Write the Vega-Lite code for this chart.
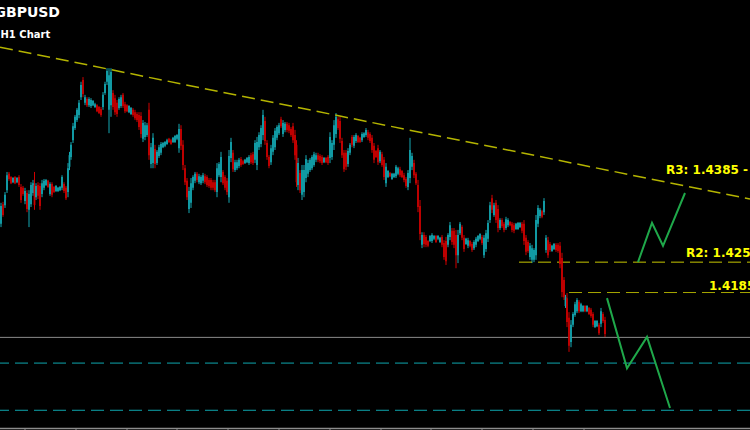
{
"$schema": "https://vega.github.io/schema/vega-lite/v6.json",
"width": 750, "height": 430,
"autosize": {"type": "none"},
"padding": 0,
"background": "#000000",
"config": {"view": {"stroke": null}},
"datasets": {
"candles": [
{"t":1,"o":1.4332,"h":1.4377,"l":1.4325,"c":1.4370},
{"t":3,"o":1.4374,"h":1.4379,"l":1.4347,"c":1.4351},
{"t":5,"o":1.4372,"h":1.4400,"l":1.4366,"c":1.4394},
{"t":7,"o":1.4404,"h":1.4443,"l":1.4398,"c":1.4436},
{"t":9,"o":1.4439,"h":1.4443,"l":1.4424,"c":1.4428},
{"t":11,"o":1.4432,"h":1.4434,"l":1.4417,"c":1.4419},
{"t":13,"o":1.4421,"h":1.4432,"l":1.4419,"c":1.4430},
{"t":15,"o":1.4432,"h":1.4434,"l":1.4417,"c":1.4419},
{"t":17,"o":1.4421,"h":1.4432,"l":1.4419,"c":1.4430},
{"t":19,"o":1.4432,"h":1.4436,"l":1.4411,"c":1.4415},
{"t":21,"o":1.4411,"h":1.4417,"l":1.4377,"c":1.4383},
{"t":23,"o":1.4409,"h":1.4413,"l":1.4392,"c":1.4396},
{"t":25,"o":1.4381,"h":1.4409,"l":1.4374,"c":1.4402},
{"t":27,"o":1.4398,"h":1.4404,"l":1.4357,"c":1.4364},
{"t":29,"o":1.4362,"h":1.4404,"l":1.4325,"c":1.4396},
{"t":31,"o":1.4374,"h":1.4421,"l":1.4368,"c":1.4415},
{"t":33,"o":1.4398,"h":1.4426,"l":1.4392,"c":1.4419},
{"t":34.5,"o":1.4415,"h":1.4443,"l":1.4362,"c":1.4372},
{"t":36,"o":1.4389,"h":1.4419,"l":1.4383,"c":1.4413},
{"t":38,"o":1.4415,"h":1.4421,"l":1.4385,"c":1.4392},
{"t":40,"o":1.4413,"h":1.4419,"l":1.4362,"c":1.4370},
{"t":42,"o":1.4396,"h":1.4426,"l":1.4389,"c":1.4419},
{"t":44,"o":1.4409,"h":1.4428,"l":1.4404,"c":1.4424},
{"t":46,"o":1.4415,"h":1.4428,"l":1.4413,"c":1.4426},
{"t":48,"o":1.4424,"h":1.4426,"l":1.4409,"c":1.4411},
{"t":50,"o":1.4396,"h":1.4421,"l":1.4392,"c":1.4417},
{"t":52,"o":1.4417,"h":1.4421,"l":1.4389,"c":1.4394},
{"t":54,"o":1.4411,"h":1.4413,"l":1.4398,"c":1.4400},
{"t":56,"o":1.4402,"h":1.4415,"l":1.4400,"c":1.4413},
{"t":58,"o":1.4402,"h":1.4411,"l":1.4400,"c":1.4409},
{"t":60,"o":1.4404,"h":1.4413,"l":1.4402,"c":1.4411},
{"t":62,"o":1.4409,"h":1.4436,"l":1.4404,"c":1.4432},
{"t":64,"o":1.4417,"h":1.4421,"l":1.4398,"c":1.4402},
{"t":66,"o":1.4409,"h":1.4413,"l":1.4383,"c":1.4387},
{"t":68,"o":1.4400,"h":1.4462,"l":1.4389,"c":1.4451},
{"t":69.5,"o":1.4454,"h":1.4486,"l":1.4447,"c":1.4479},
{"t":71,"o":1.4475,"h":1.4507,"l":1.4469,"c":1.4501},
{"t":73,"o":1.4511,"h":1.4548,"l":1.4505,"c":1.4541},
{"t":75,"o":1.4537,"h":1.4565,"l":1.4533,"c":1.4561},
{"t":77,"o":1.4554,"h":1.4580,"l":1.4550,"c":1.4576},
{"t":79,"o":1.4565,"h":1.4597,"l":1.4558,"c":1.4591},
{"t":81,"o":1.4603,"h":1.4636,"l":1.4597,"c":1.4629},
{"t":83,"o":1.4640,"h":1.4646,"l":1.4603,"c":1.4610},
{"t":85,"o":1.4591,"h":1.4608,"l":1.4586,"c":1.4603},
{"t":87,"o":1.4599,"h":1.4603,"l":1.4582,"c":1.4586},
{"t":89,"o":1.4586,"h":1.4603,"l":1.4582,"c":1.4599},
{"t":91,"o":1.4584,"h":1.4601,"l":1.4580,"c":1.4597},
{"t":93,"o":1.4586,"h":1.4597,"l":1.4584,"c":1.4595},
{"t":95,"o":1.4582,"h":1.4591,"l":1.4580,"c":1.4588},
{"t":97,"o":1.4586,"h":1.4588,"l":1.4571,"c":1.4573},
{"t":99,"o":1.4582,"h":1.4584,"l":1.4567,"c":1.4569},
{"t":101,"o":1.4578,"h":1.4582,"l":1.4561,"c":1.4565},
{"t":103,"o":1.4582,"h":1.4614,"l":1.4576,"c":1.4608},
{"t":105,"o":1.4612,"h":1.4636,"l":1.4608,"c":1.4631},
{"t":107,"o":1.4636,"h":1.4665,"l":1.4629,"c":1.4659},
{"t":109,"o":1.4576,"h":1.4665,"l":1.4526,"c":1.4650},
{"t":111,"o":1.4586,"h":1.4665,"l":1.4561,"c":1.4657},
{"t":113,"o":1.4612,"h":1.4618,"l":1.4576,"c":1.4582},
{"t":115,"o":1.4601,"h":1.4608,"l":1.4565,"c":1.4571},
{"t":117,"o":1.4591,"h":1.4597,"l":1.4561,"c":1.4567},
{"t":119,"o":1.4580,"h":1.4603,"l":1.4576,"c":1.4599},
{"t":121,"o":1.4584,"h":1.4608,"l":1.4580,"c":1.4603},
{"t":123,"o":1.4608,"h":1.4612,"l":1.4580,"c":1.4584},
{"t":125,"o":1.4588,"h":1.4593,"l":1.4569,"c":1.4573},
{"t":127,"o":1.4586,"h":1.4588,"l":1.4571,"c":1.4573},
{"t":129,"o":1.4571,"h":1.4586,"l":1.4569,"c":1.4584},
{"t":131,"o":1.4567,"h":1.4582,"l":1.4565,"c":1.4580},
{"t":133,"o":1.4576,"h":1.4580,"l":1.4561,"c":1.4565},
{"t":135,"o":1.4571,"h":1.4576,"l":1.4554,"c":1.4558},
{"t":137,"o":1.4567,"h":1.4571,"l":1.4550,"c":1.4554},
{"t":139,"o":1.4565,"h":1.4571,"l":1.4533,"c":1.4539},
{"t":141,"o":1.4563,"h":1.4571,"l":1.4516,"c":1.4524},
{"t":143,"o":1.4514,"h":1.4554,"l":1.4507,"c":1.4548},
{"t":145,"o":1.4518,"h":1.4550,"l":1.4511,"c":1.4543},
{"t":147,"o":1.4522,"h":1.4548,"l":1.4518,"c":1.4543},
{"t":149,"o":1.4576,"h":1.4591,"l":1.4469,"c":1.4479},
{"t":151,"o":1.4460,"h":1.4505,"l":1.4451,"c":1.4496},
{"t":153,"o":1.4462,"h":1.4526,"l":1.4451,"c":1.4516},
{"t":155,"o":1.4492,"h":1.4501,"l":1.4451,"c":1.4460},
{"t":157,"o":1.4462,"h":1.4490,"l":1.4458,"c":1.4486},
{"t":159,"o":1.4477,"h":1.4501,"l":1.4473,"c":1.4496},
{"t":161,"o":1.4484,"h":1.4507,"l":1.4479,"c":1.4503},
{"t":163,"o":1.4496,"h":1.4507,"l":1.4494,"c":1.4505},
{"t":165,"o":1.4499,"h":1.4509,"l":1.4496,"c":1.4507},
{"t":167,"o":1.4503,"h":1.4514,"l":1.4501,"c":1.4511},
{"t":169,"o":1.4514,"h":1.4516,"l":1.4505,"c":1.4507},
{"t":171,"o":1.4511,"h":1.4514,"l":1.4501,"c":1.4503},
{"t":173,"o":1.4507,"h":1.4518,"l":1.4505,"c":1.4516},
{"t":175,"o":1.4507,"h":1.4522,"l":1.4505,"c":1.4520},
{"t":177,"o":1.4514,"h":1.4524,"l":1.4511,"c":1.4522},
{"t":179,"o":1.4494,"h":1.4546,"l":1.4484,"c":1.4535},
{"t":181,"o":1.4535,"h":1.4543,"l":1.4490,"c":1.4499},
{"t":183,"o":1.4501,"h":1.4511,"l":1.4447,"c":1.4458},
{"t":185,"o":1.4451,"h":1.4458,"l":1.4415,"c":1.4421},
{"t":187,"o":1.4424,"h":1.4430,"l":1.4383,"c":1.4389},
{"t":189,"o":1.4364,"h":1.4411,"l":1.4355,"c":1.4402},
{"t":191,"o":1.4377,"h":1.4430,"l":1.4366,"c":1.4419},
{"t":193,"o":1.4409,"h":1.4436,"l":1.4404,"c":1.4432},
{"t":195,"o":1.4424,"h":1.4443,"l":1.4419,"c":1.4439},
{"t":197,"o":1.4439,"h":1.4443,"l":1.4421,"c":1.4426},
{"t":199,"o":1.4421,"h":1.4439,"l":1.4417,"c":1.4434},
{"t":201,"o":1.4419,"h":1.4436,"l":1.4415,"c":1.4432},
{"t":203,"o":1.4424,"h":1.4441,"l":1.4419,"c":1.4436},
{"t":205,"o":1.4434,"h":1.4439,"l":1.4417,"c":1.4421},
{"t":207,"o":1.4432,"h":1.4436,"l":1.4411,"c":1.4415},
{"t":209,"o":1.4426,"h":1.4430,"l":1.4409,"c":1.4413},
{"t":211,"o":1.4426,"h":1.4430,"l":1.4404,"c":1.4409},
{"t":213,"o":1.4421,"h":1.4426,"l":1.4404,"c":1.4409},
{"t":215,"o":1.4421,"h":1.4426,"l":1.4400,"c":1.4404},
{"t":217,"o":1.4400,"h":1.4462,"l":1.4389,"c":1.4451},
{"t":219,"o":1.4436,"h":1.4464,"l":1.4432,"c":1.4460},
{"t":221,"o":1.4432,"h":1.4486,"l":1.4421,"c":1.4475},
{"t":223,"o":1.4443,"h":1.4447,"l":1.4415,"c":1.4419},
{"t":225,"o":1.4432,"h":1.4436,"l":1.4404,"c":1.4409},
{"t":227,"o":1.4424,"h":1.4430,"l":1.4394,"c":1.4400},
{"t":229,"o":1.4389,"h":1.4490,"l":1.4377,"c":1.4477},
{"t":231,"o":1.4473,"h":1.4516,"l":1.4464,"c":1.4507},
{"t":233,"o":1.4484,"h":1.4490,"l":1.4443,"c":1.4449},
{"t":235,"o":1.4447,"h":1.4469,"l":1.4443,"c":1.4464},
{"t":237,"o":1.4451,"h":1.4469,"l":1.4447,"c":1.4464},
{"t":239,"o":1.4456,"h":1.4473,"l":1.4451,"c":1.4469},
{"t":241,"o":1.4471,"h":1.4475,"l":1.4454,"c":1.4458},
{"t":243,"o":1.4466,"h":1.4469,"l":1.4458,"c":1.4460},
{"t":245,"o":1.4462,"h":1.4471,"l":1.4460,"c":1.4469},
{"t":247,"o":1.4464,"h":1.4475,"l":1.4462,"c":1.4473},
{"t":249,"o":1.4462,"h":1.4479,"l":1.4458,"c":1.4475},
{"t":251,"o":1.4479,"h":1.4484,"l":1.4460,"c":1.4464},
{"t":253,"o":1.4481,"h":1.4486,"l":1.4458,"c":1.4462},
{"t":255,"o":1.4469,"h":1.4511,"l":1.4462,"c":1.4505},
{"t":257,"o":1.4458,"h":1.4518,"l":1.4447,"c":1.4507},
{"t":259,"o":1.4496,"h":1.4528,"l":1.4490,"c":1.4522},
{"t":261,"o":1.4503,"h":1.4543,"l":1.4496,"c":1.4537},
{"t":263,"o":1.4522,"h":1.4576,"l":1.4511,"c":1.4565},
{"t":265,"o":1.4552,"h":1.4561,"l":1.4501,"c":1.4509},
{"t":267,"o":1.4505,"h":1.4511,"l":1.4469,"c":1.4475},
{"t":269,"o":1.4475,"h":1.4479,"l":1.4451,"c":1.4456},
{"t":271,"o":1.4464,"h":1.4501,"l":1.4458,"c":1.4494},
{"t":273,"o":1.4486,"h":1.4522,"l":1.4479,"c":1.4516},
{"t":275,"o":1.4496,"h":1.4537,"l":1.4490,"c":1.4531},
{"t":277,"o":1.4516,"h":1.4543,"l":1.4511,"c":1.4539},
{"t":279,"o":1.4526,"h":1.4548,"l":1.4522,"c":1.4543},
{"t":281,"o":1.4556,"h":1.4561,"l":1.4537,"c":1.4541},
{"t":283,"o":1.4524,"h":1.4554,"l":1.4518,"c":1.4548},
{"t":285,"o":1.4533,"h":1.4550,"l":1.4528,"c":1.4546},
{"t":287,"o":1.4546,"h":1.4550,"l":1.4528,"c":1.4533},
{"t":289,"o":1.4543,"h":1.4548,"l":1.4526,"c":1.4531},
{"t":291,"o":1.4535,"h":1.4539,"l":1.4518,"c":1.4522},
{"t":293,"o":1.4541,"h":1.4548,"l":1.4505,"c":1.4511},
{"t":295,"o":1.4522,"h":1.4533,"l":1.4469,"c":1.4479},
{"t":296.5,"o":1.4501,"h":1.4511,"l":1.4411,"c":1.4421},
{"t":298,"o":1.4415,"h":1.4473,"l":1.4404,"c":1.4462},
{"t":300,"o":1.4441,"h":1.4447,"l":1.4398,"c":1.4404},
{"t":302,"o":1.4394,"h":1.4458,"l":1.4383,"c":1.4447},
{"t":304,"o":1.4400,"h":1.4458,"l":1.4389,"c":1.4447},
{"t":306,"o":1.4430,"h":1.4479,"l":1.4421,"c":1.4471},
{"t":308,"o":1.4439,"h":1.4469,"l":1.4432,"c":1.4462},
{"t":310,"o":1.4447,"h":1.4473,"l":1.4443,"c":1.4469},
{"t":312,"o":1.4451,"h":1.4479,"l":1.4447,"c":1.4475},
{"t":314,"o":1.4458,"h":1.4486,"l":1.4454,"c":1.4481},
{"t":316,"o":1.4469,"h":1.4484,"l":1.4464,"c":1.4479},
{"t":318,"o":1.4479,"h":1.4484,"l":1.4464,"c":1.4469},
{"t":320,"o":1.4477,"h":1.4481,"l":1.4462,"c":1.4466},
{"t":322,"o":1.4475,"h":1.4479,"l":1.4458,"c":1.4462},
{"t":324,"o":1.4464,"h":1.4475,"l":1.4462,"c":1.4473},
{"t":326,"o":1.4473,"h":1.4475,"l":1.4462,"c":1.4464},
{"t":328,"o":1.4475,"h":1.4479,"l":1.4458,"c":1.4462},
{"t":330,"o":1.4473,"h":1.4528,"l":1.4462,"c":1.4518},
{"t":332,"o":1.4475,"h":1.4511,"l":1.4469,"c":1.4505},
{"t":334,"o":1.4501,"h":1.4554,"l":1.4490,"c":1.4543},
{"t":336,"o":1.4524,"h":1.4569,"l":1.4516,"c":1.4561},
{"t":338,"o":1.4556,"h":1.4561,"l":1.4533,"c":1.4537},
{"t":340,"o":1.4552,"h":1.4561,"l":1.4505,"c":1.4514},
{"t":342,"o":1.4509,"h":1.4516,"l":1.4473,"c":1.4479},
{"t":344,"o":1.4484,"h":1.4490,"l":1.4443,"c":1.4449},
{"t":346,"o":1.4484,"h":1.4490,"l":1.4447,"c":1.4454},
{"t":348,"o":1.4460,"h":1.4494,"l":1.4454,"c":1.4488},
{"t":350,"o":1.4484,"h":1.4505,"l":1.4479,"c":1.4501},
{"t":352,"o":1.4518,"h":1.4522,"l":1.4496,"c":1.4501},
{"t":354,"o":1.4499,"h":1.4522,"l":1.4494,"c":1.4518},
{"t":356,"o":1.4509,"h":1.4526,"l":1.4505,"c":1.4522},
{"t":358,"o":1.4520,"h":1.4522,"l":1.4505,"c":1.4507},
{"t":360,"o":1.4516,"h":1.4518,"l":1.4505,"c":1.4507},
{"t":362,"o":1.4511,"h":1.4528,"l":1.4507,"c":1.4524},
{"t":364,"o":1.4518,"h":1.4528,"l":1.4516,"c":1.4526},
{"t":366,"o":1.4522,"h":1.4537,"l":1.4518,"c":1.4533},
{"t":368,"o":1.4528,"h":1.4533,"l":1.4511,"c":1.4516},
{"t":370,"o":1.4524,"h":1.4528,"l":1.4505,"c":1.4509},
{"t":372,"o":1.4516,"h":1.4522,"l":1.4484,"c":1.4490},
{"t":374,"o":1.4499,"h":1.4505,"l":1.4462,"c":1.4469},
{"t":376,"o":1.4488,"h":1.4490,"l":1.4473,"c":1.4475},
{"t":378,"o":1.4494,"h":1.4501,"l":1.4458,"c":1.4464},
{"t":380,"o":1.4466,"h":1.4490,"l":1.4462,"c":1.4486},
{"t":382,"o":1.4481,"h":1.4486,"l":1.4454,"c":1.4458},
{"t":384,"o":1.4469,"h":1.4475,"l":1.4426,"c":1.4432},
{"t":386,"o":1.4419,"h":1.4462,"l":1.4411,"c":1.4454},
{"t":388,"o":1.4432,"h":1.4447,"l":1.4430,"c":1.4445},
{"t":390,"o":1.4441,"h":1.4443,"l":1.4432,"c":1.4434},
{"t":392,"o":1.4428,"h":1.4441,"l":1.4426,"c":1.4439},
{"t":394,"o":1.4432,"h":1.4441,"l":1.4430,"c":1.4439},
{"t":396,"o":1.4434,"h":1.4458,"l":1.4430,"c":1.4454},
{"t":398,"o":1.4439,"h":1.4454,"l":1.4436,"c":1.4451},
{"t":400,"o":1.4449,"h":1.4454,"l":1.4432,"c":1.4436},
{"t":402,"o":1.4445,"h":1.4447,"l":1.4430,"c":1.4432},
{"t":404,"o":1.4436,"h":1.4441,"l":1.4421,"c":1.4426},
{"t":406,"o":1.4428,"h":1.4432,"l":1.4409,"c":1.4413},
{"t":408,"o":1.4411,"h":1.4447,"l":1.4404,"c":1.4441},
{"t":410,"o":1.4430,"h":1.4516,"l":1.4419,"c":1.4490},
{"t":412,"o":1.4454,"h":1.4484,"l":1.4447,"c":1.4477},
{"t":414,"o":1.4462,"h":1.4469,"l":1.4430,"c":1.4436},
{"t":416,"o":1.4439,"h":1.4443,"l":1.4415,"c":1.4419},
{"t":418,"o":1.4415,"h":1.4426,"l":1.4357,"c":1.4368},
{"t":420,"o":1.4370,"h":1.4383,"l":1.4297,"c":1.4310},
{"t":422,"o":1.4287,"h":1.4314,"l":1.4280,"c":1.4308},
{"t":424,"o":1.4308,"h":1.4314,"l":1.4282,"c":1.4289},
{"t":426,"o":1.4304,"h":1.4308,"l":1.4282,"c":1.4287},
{"t":428,"o":1.4295,"h":1.4297,"l":1.4282,"c":1.4285},
{"t":430,"o":1.4295,"h":1.4308,"l":1.4293,"c":1.4306},
{"t":432,"o":1.4295,"h":1.4312,"l":1.4291,"c":1.4308},
{"t":434,"o":1.4300,"h":1.4308,"l":1.4297,"c":1.4306},
{"t":436,"o":1.4306,"h":1.4308,"l":1.4291,"c":1.4293},
{"t":438,"o":1.4300,"h":1.4308,"l":1.4297,"c":1.4306},
{"t":440,"o":1.4293,"h":1.4304,"l":1.4291,"c":1.4302},
{"t":442,"o":1.4304,"h":1.4308,"l":1.4282,"c":1.4287},
{"t":444,"o":1.4291,"h":1.4297,"l":1.4255,"c":1.4261},
{"t":446,"o":1.4295,"h":1.4304,"l":1.4244,"c":1.4252},
{"t":448,"o":1.4287,"h":1.4312,"l":1.4282,"c":1.4308},
{"t":450,"o":1.4304,"h":1.4336,"l":1.4297,"c":1.4329},
{"t":452,"o":1.4317,"h":1.4323,"l":1.4287,"c":1.4293},
{"t":454,"o":1.4317,"h":1.4323,"l":1.4280,"c":1.4287},
{"t":456,"o":1.4308,"h":1.4319,"l":1.4237,"c":1.4265},
{"t":458,"o":1.4265,"h":1.4319,"l":1.4248,"c":1.4308},
{"t":460,"o":1.4312,"h":1.4336,"l":1.4308,"c":1.4332},
{"t":462,"o":1.4325,"h":1.4329,"l":1.4297,"c":1.4302},
{"t":464,"o":1.4302,"h":1.4308,"l":1.4272,"c":1.4278},
{"t":466,"o":1.4289,"h":1.4302,"l":1.4287,"c":1.4300},
{"t":468,"o":1.4285,"h":1.4302,"l":1.4280,"c":1.4297},
{"t":470,"o":1.4295,"h":1.4297,"l":1.4282,"c":1.4285},
{"t":472,"o":1.4289,"h":1.4293,"l":1.4272,"c":1.4276},
{"t":474,"o":1.4280,"h":1.4297,"l":1.4276,"c":1.4293},
{"t":476,"o":1.4287,"h":1.4304,"l":1.4282,"c":1.4300},
{"t":478,"o":1.4295,"h":1.4308,"l":1.4293,"c":1.4306},
{"t":480,"o":1.4300,"h":1.4312,"l":1.4297,"c":1.4310},
{"t":482,"o":1.4304,"h":1.4308,"l":1.4287,"c":1.4291},
{"t":484,"o":1.4265,"h":1.4308,"l":1.4259,"c":1.4302},
{"t":486,"o":1.4278,"h":1.4319,"l":1.4272,"c":1.4312},
{"t":488,"o":1.4300,"h":1.4340,"l":1.4293,"c":1.4334},
{"t":490,"o":1.4340,"h":1.4379,"l":1.4334,"c":1.4372},
{"t":492,"o":1.4387,"h":1.4394,"l":1.4355,"c":1.4362},
{"t":494,"o":1.4351,"h":1.4377,"l":1.4347,"c":1.4372},
{"t":496,"o":1.4377,"h":1.4383,"l":1.4334,"c":1.4340},
{"t":498,"o":1.4364,"h":1.4372,"l":1.4314,"c":1.4323},
{"t":500,"o":1.4323,"h":1.4344,"l":1.4319,"c":1.4340},
{"t":502,"o":1.4340,"h":1.4344,"l":1.4323,"c":1.4327},
{"t":504,"o":1.4332,"h":1.4336,"l":1.4314,"c":1.4319},
{"t":506,"o":1.4323,"h":1.4347,"l":1.4319,"c":1.4342},
{"t":508,"o":1.4329,"h":1.4344,"l":1.4325,"c":1.4340},
{"t":510,"o":1.4336,"h":1.4338,"l":1.4327,"c":1.4329},
{"t":512,"o":1.4332,"h":1.4336,"l":1.4314,"c":1.4319},
{"t":514,"o":1.4329,"h":1.4334,"l":1.4312,"c":1.4317},
{"t":516,"o":1.4321,"h":1.4334,"l":1.4319,"c":1.4332},
{"t":518,"o":1.4321,"h":1.4336,"l":1.4319,"c":1.4334},
{"t":520,"o":1.4325,"h":1.4336,"l":1.4323,"c":1.4334},
{"t":522,"o":1.4332,"h":1.4336,"l":1.4312,"c":1.4317},
{"t":524,"o":1.4332,"h":1.4340,"l":1.4287,"c":1.4295},
{"t":526,"o":1.4302,"h":1.4308,"l":1.4265,"c":1.4272},
{"t":528,"o":1.4293,"h":1.4297,"l":1.4270,"c":1.4274},
{"t":530,"o":1.4261,"h":1.4291,"l":1.4255,"c":1.4285},
{"t":532,"o":1.4255,"h":1.4287,"l":1.4248,"c":1.4280},
{"t":534,"o":1.4255,"h":1.4280,"l":1.4250,"c":1.4276},
{"t":536,"o":1.4265,"h":1.4351,"l":1.4255,"c":1.4340},
{"t":538,"o":1.4332,"h":1.4372,"l":1.4325,"c":1.4366},
{"t":540,"o":1.4349,"h":1.4366,"l":1.4344,"c":1.4362},
{"t":542,"o":1.4359,"h":1.4362,"l":1.4344,"c":1.4347},
{"t":544,"o":1.4357,"h":1.4387,"l":1.4351,"c":1.4381},
{"t":546,"o":1.4276,"h":1.4308,"l":1.4270,"c":1.4302},
{"t":548,"o":1.4297,"h":1.4304,"l":1.4259,"c":1.4265},
{"t":550,"o":1.4289,"h":1.4293,"l":1.4272,"c":1.4276},
{"t":552,"o":1.4274,"h":1.4287,"l":1.4272,"c":1.4285},
{"t":554,"o":1.4278,"h":1.4291,"l":1.4276,"c":1.4289},
{"t":556,"o":1.4287,"h":1.4291,"l":1.4272,"c":1.4276},
{"t":558,"o":1.4287,"h":1.4291,"l":1.4270,"c":1.4274},
{"t":560,"o":1.4285,"h":1.4293,"l":1.4237,"c":1.4246},
{"t":562,"o":1.4259,"h":1.4270,"l":1.4175,"c":1.4186},
{"t":564,"o":1.4212,"h":1.4218,"l":1.4169,"c":1.4175},
{"t":565.5,"o":1.4156,"h":1.4180,"l":1.4152,"c":1.4175},
{"t":567,"o":1.4173,"h":1.4184,"l":1.4111,"c":1.4122},
{"t":569,"o":1.4131,"h":1.4143,"l":1.4058,"c":1.4071},
{"t":571,"o":1.4079,"h":1.4126,"l":1.4068,"c":1.4116},
{"t":573,"o":1.4116,"h":1.4143,"l":1.4111,"c":1.4139},
{"t":575,"o":1.4137,"h":1.4165,"l":1.4133,"c":1.4160},
{"t":577,"o":1.4145,"h":1.4173,"l":1.4141,"c":1.4169},
{"t":579,"o":1.4165,"h":1.4169,"l":1.4141,"c":1.4145},
{"t":581,"o":1.4145,"h":1.4163,"l":1.4143,"c":1.4160},
{"t":583,"o":1.4145,"h":1.4158,"l":1.4143,"c":1.4156},
{"t":585,"o":1.4156,"h":1.4158,"l":1.4143,"c":1.4145},
{"t":587,"o":1.4145,"h":1.4158,"l":1.4143,"c":1.4156},
{"t":589,"o":1.4152,"h":1.4154,"l":1.4137,"c":1.4139},
{"t":591,"o":1.4148,"h":1.4152,"l":1.4131,"c":1.4135},
{"t":593,"o":1.4139,"h":1.4143,"l":1.4111,"c":1.4116},
{"t":595,"o":1.4111,"h":1.4126,"l":1.4109,"c":1.4124},
{"t":597,"o":1.4113,"h":1.4126,"l":1.4111,"c":1.4124},
{"t":599,"o":1.4116,"h":1.4120,"l":1.4094,"c":1.4098},
{"t":601,"o":1.4118,"h":1.4152,"l":1.4111,"c":1.4145},
{"t":603,"o":1.4139,"h":1.4143,"l":1.4120,"c":1.4124},
{"t":605,"o":1.4126,"h":1.4133,"l":1.4090,"c":1.4096}
],
"trend": [{"t": 0, "p": 1.4710}, {"t": 750, "p": 1.4385}],
"zigzag": [
{"leg": "up", "k": 0, "t": 638, "p": 1.4250},
{"leg": "up", "k": 1, "t": 652, "p": 1.4334},
{"leg": "up", "k": 2, "t": 663, "p": 1.4285},
{"leg": "up", "k": 3, "t": 685, "p": 1.4398},
{"leg": "down", "k": 0, "t": 607, "p": 1.4173},
{"leg": "down", "k": 1, "t": 627, "p": 1.4023},
{"leg": "down", "k": 2, "t": 647, "p": 1.4090},
{"leg": "down", "k": 3, "t": 670, "p": 1.3938}
],
"labels": [
{"t": 666, "p": 1.4439, "label": "R3: 1.4385 -"},
{"t": 686, "p": 1.4261, "label": "R2: 1.4250"},
{"t": 709, "p": 1.4190, "label": "1.4185"}
],
"timeticks": [
{"t": 25, "p0": 1.3894, "p1": 1.38908}, {"t": 76, "p0": 1.3894, "p1": 1.38908},
{"t": 127, "p0": 1.3894, "p1": 1.38908}, {"t": 177, "p0": 1.3894, "p1": 1.38908},
{"t": 228, "p0": 1.3894, "p1": 1.38908}, {"t": 279, "p0": 1.3894, "p1": 1.38908},
{"t": 330, "p0": 1.3894, "p1": 1.38908}, {"t": 381, "p0": 1.3894, "p1": 1.38908},
{"t": 431, "p0": 1.3894, "p1": 1.38908}, {"t": 482, "p0": 1.3894, "p1": 1.38908},
{"t": 533, "p0": 1.3894, "p1": 1.38908}, {"t": 584, "p0": 1.3894, "p1": 1.38908}
]
},
"layer": [
{
"data": {"name": "candles"},
"mark": {"type": "rule", "strokeWidth": 1},
"encoding": {
"x": {"field": "t", "type": "quantitative", "scale": {"domain": [0, 750], "nice": false, "zero": false}, "axis": null},
"y": {"field": "h", "type": "quantitative", "scale": {"domain": [1.38908, 1.4811], "nice": false, "zero": false}, "axis": null},
"y2": {"field": "l"},
"color": {"condition": {"test": "datum.c >= datum.o", "value": "#14a9b4"}, "value": "#d00000"}
}
},
{
"data": {"values": [{"p": 1.4089}]},
"mark": {"type": "rule", "color": "#8a8a8a", "strokeWidth": 1},
"encoding": {"y": {"field": "p", "type": "quantitative", "axis": null}}
},
{
"data": {"values": [{"p": 1.4034}, {"p": 1.3933}]},
"mark": {"type": "rule", "color": "#0ea6ae", "strokeWidth": 1, "strokeDash": [13, 6]},
"encoding": {"y": {"field": "p", "type": "quantitative", "axis": null}}
},
{
"data": {"values": [{"p": 1.3894}]},
"mark": {"type": "rule", "color": "#8c8c8c", "strokeWidth": 1.5},
"encoding": {"y": {"field": "p", "type": "quantitative", "axis": null}}
},
{
"data": {"name": "timeticks"},
"mark": {"type": "rule", "color": "#8c8c8c", "strokeWidth": 1},
"encoding": {
"x": {"field": "t", "type": "quantitative", "axis": null},
"y": {"field": "p0", "type": "quantitative", "axis": null},
"y2": {"field": "p1"}
}
},
{
"data": {"values": [{"p": 1.4250, "t0": 519, "t1": 750}]},
"mark": {"type": "rule", "color": "#c8c800", "strokeWidth": 1, "strokeDash": [13, 6]},
"encoding": {
"x": {"field": "t0", "type": "quantitative", "axis": null},
"x2": {"field": "t1"},
"y": {"field": "p", "type": "quantitative", "axis": null}
}
},
{
"data": {"values": [{"p": 1.4185, "t0": 569, "t1": 750}]},
"mark": {"type": "rule", "color": "#a6a600", "strokeWidth": 1, "strokeDash": [13, 6]},
"encoding": {
"x": {"field": "t0", "type": "quantitative", "axis": null},
"x2": {"field": "t1"},
"y": {"field": "p", "type": "quantitative", "axis": null}
}
},
{
"data": {"name": "trend"},
"mark": {"type": "line", "color": "#b4b400", "strokeWidth": 1.5, "strokeDash": [13, 6]},
"encoding": {
"x": {"field": "t", "type": "quantitative", "axis": null},
"y": {"field": "p", "type": "quantitative", "axis": null}
}
},
{
"data": {"name": "candles"},
"mark": {"type": "rule", "strokeWidth": 1.8},
"encoding": {
"x": {"field": "t", "type": "quantitative", "axis": null},
"y": {"field": "o", "type": "quantitative", "axis": null},
"y2": {"field": "c"},
"color": {"condition": {"test": "datum.c >= datum.o", "value": "#12a2ac"}, "value": "#c80000"}
}
},
{
"data": {"name": "zigzag"},
"mark": {"type": "line", "color": "#1fa84a", "strokeWidth": 2},
"encoding": {
"x": {"field": "t", "type": "quantitative", "axis": null},
"y": {"field": "p", "type": "quantitative", "axis": null},
"detail": {"field": "leg"},
"order": {"field": "k", "type": "quantitative"}
}
},
{
"data": {"name": "labels"},
"mark": {"type": "text", "align": "left", "baseline": "alphabetic", "font": "DejaVu Sans", "fontWeight": "bold", "fontSize": 12, "color": "#ffff00", "clip": true},
"encoding": {
"x": {"field": "t", "type": "quantitative", "axis": null},
"y": {"field": "p", "type": "quantitative", "axis": null},
"text": {"field": "label"}
}
},
{
"data": {"values": [{"t": -5.5, "p": 1.4775, "label": "GBPUSD"}]},
"mark": {"type": "text", "align": "left", "baseline": "alphabetic", "font": "DejaVu Sans", "fontWeight": "bold", "fontSize": 14, "color": "#ffffff", "clip": true},
"encoding": {
"x": {"field": "t", "type": "quantitative", "axis": null},
"y": {"field": "p", "type": "quantitative", "axis": null},
"text": {"field": "label"}
}
},
{
"data": {"values": [{"t": 0.5, "p": 1.4730, "label": "H1 Chart"}]},
"mark": {"type": "text", "align": "left", "baseline": "alphabetic", "font": "DejaVu Sans", "fontWeight": "bold", "fontSize": 10, "color": "#ffffff", "clip": true},
"encoding": {
"x": {"field": "t", "type": "quantitative", "axis": null},
"y": {"field": "p", "type": "quantitative", "axis": null},
"text": {"field": "label"}
}
}
]
}
